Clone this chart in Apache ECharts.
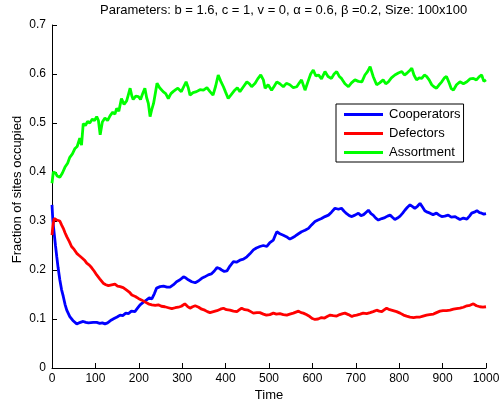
<!DOCTYPE html>
<html>
<head>
<meta charset="utf-8">
<script src="https://cdn.jsdelivr.net/npm/echarts@6/dist/echarts.min.js"></script>
<style>html,body{margin:0;padding:0;background:#fff}#c{width:501px;height:403px}</style>
</head>
<body>
<div id="c"></div>
<script>
var titleText = 'Parameters: b = 1.6, c = 1, v = 0, α = 0.6, β =0.2, Size: 100x100';
var xName = 'Time';
var yName = 'Fraction of sites occupied';
var seriesNames = ['Cooperators', 'Defectors', 'Assortment'];
var seriesColors = ['#0000ff', '#ff0000', '#00ff00'];

var cooperators = [[0,0.333],[2,0.30],[5,0.275],[8,0.250],[11,0.227],[14,0.205],[18,0.180],[22,0.160],[26,0.146],[30,0.130],[34,0.118],[41,0.105],[48,0.097],[57,0.090],[62,0.092],[66,0.091],[72,0.095],[78,0.093],[84,0.092],[88,0.094],[95,0.093],[103,0.093],[110,0.091],[116,0.092],[122,0.090],[128,0.092],[137,0.098],[143,0.101],[150,0.104],[157,0.108],[163,0.107],[170,0.112],[176,0.111],[183,0.116],[191,0.115],[197,0.122],[203,0.129],[210,0.134],[218,0.139],[224,0.143],[230,0.141],[236,0.152],[241,0.163],[249,0.166],[257,0.167],[265,0.165],[272,0.165],[280,0.170],[287,0.176],[295,0.180],[303,0.186],[308,0.184],[314,0.180],[322,0.176],[330,0.174],[338,0.178],[345,0.183],[352,0.186],[360,0.190],[367,0.192],[374,0.198],[380,0.205],[386,0.203],[391,0.200],[397,0.197],[403,0.198],[410,0.208],[418,0.217],[425,0.216],[433,0.220],[441,0.222],[449,0.227],[456,0.233],[464,0.241],[471,0.245],[479,0.248],[487,0.250],[495,0.248],[502,0.256],[510,0.261],[514,0.270],[518,0.278],[525,0.274],[533,0.271],[540,0.268],[548,0.263],[554,0.266],[560,0.269],[568,0.274],[575,0.278],[583,0.281],[591,0.285],[598,0.292],[606,0.299],[613,0.302],[621,0.305],[629,0.309],[637,0.312],[644,0.318],[652,0.326],[660,0.324],[667,0.326],[673,0.320],[679,0.315],[685,0.311],[691,0.309],[698,0.312],[706,0.316],[712,0.311],[718,0.313],[724,0.318],[729,0.322],[735,0.315],[740,0.312],[746,0.306],[752,0.302],[760,0.305],[767,0.307],[773,0.310],[779,0.312],[785,0.307],[790,0.303],[796,0.306],[802,0.310],[808,0.316],[813,0.322],[819,0.328],[825,0.333],[830,0.330],[836,0.326],[842,0.330],[848,0.336],[854,0.328],[859,0.321],[865,0.318],[871,0.316],[878,0.313],[886,0.316],[892,0.312],[898,0.309],[905,0.310],[913,0.312],[920,0.308],[929,0.309],[934,0.306],[940,0.303],[948,0.306],[956,0.304],[962,0.310],[967,0.316],[973,0.318],[979,0.321],[985,0.317],[990,0.316],[995,0.314],[1000,0.315]];

var defectors = [[0,0.271],[2,0.290],[5,0.305],[8,0.303],[11,0.302],[15,0.298],[18,0.300],[22,0.292],[26,0.285],[30,0.276],[34,0.268],[40,0.258],[45,0.248],[51,0.242],[57,0.234],[62,0.230],[66,0.230],[70,0.224],[75,0.220],[80,0.214],[86,0.210],[91,0.205],[97,0.198],[103,0.190],[110,0.182],[118,0.173],[124,0.170],[130,0.168],[134,0.169],[140,0.170],[145,0.171],[151,0.167],[157,0.166],[164,0.164],[172,0.159],[178,0.155],[184,0.149],[192,0.146],[199,0.142],[206,0.139],[214,0.135],[222,0.131],[230,0.129],[238,0.128],[245,0.129],[252,0.126],[260,0.125],[268,0.123],[276,0.121],[284,0.123],[291,0.124],[298,0.126],[306,0.131],[312,0.126],[318,0.122],[324,0.125],[330,0.127],[338,0.124],[345,0.120],[352,0.118],[358,0.115],[364,0.113],[372,0.115],[380,0.117],[388,0.120],[395,0.122],[402,0.119],[410,0.118],[418,0.116],[426,0.115],[432,0.119],[437,0.122],[444,0.119],[452,0.118],[458,0.115],[464,0.112],[472,0.113],[479,0.113],[487,0.110],[494,0.108],[502,0.109],[510,0.112],[517,0.110],[525,0.111],[533,0.109],[541,0.108],[548,0.110],[556,0.112],[562,0.114],[568,0.116],[574,0.113],[579,0.112],[586,0.109],[594,0.105],[600,0.101],[606,0.099],[613,0.100],[621,0.103],[628,0.102],[634,0.105],[641,0.108],[648,0.107],[656,0.106],[663,0.109],[670,0.111],[675,0.112],[683,0.109],[691,0.105],[696,0.107],[702,0.108],[710,0.110],[717,0.112],[725,0.111],[733,0.113],[740,0.115],[748,0.118],[754,0.116],[760,0.115],[766,0.119],[771,0.122],[778,0.119],[786,0.117],[794,0.115],[802,0.112],[810,0.108],[817,0.106],[825,0.104],[833,0.103],[840,0.104],[848,0.104],[855,0.106],[863,0.108],[870,0.109],[879,0.110],[886,0.113],[894,0.116],[901,0.117],[909,0.117],[917,0.118],[925,0.120],[932,0.121],[940,0.122],[948,0.124],[956,0.127],[963,0.128],[971,0.131],[978,0.127],[986,0.125],[993,0.124],[1000,0.125]];

var assortment = [[0,0.377],[3,0.400],[8,0.398],[12,0.392],[18,0.389],[24,0.398],[30,0.410],[36,0.418],[41,0.430],[47,0.437],[53,0.448],[58,0.452],[64,0.469],[68,0.455],[72,0.499],[77,0.495],[82,0.503],[87,0.500],[93,0.508],[98,0.505],[103,0.513],[107,0.505],[111,0.476],[116,0.502],[122,0.510],[128,0.505],[134,0.515],[140,0.522],[145,0.518],[149,0.530],[154,0.524],[160,0.550],[166,0.538],[172,0.545],[176,0.558],[180,0.571],[184,0.555],[187,0.548],[193,0.555],[199,0.554],[204,0.548],[209,0.560],[214,0.571],[218,0.552],[222,0.540],[226,0.513],[230,0.528],[234,0.540],[238,0.560],[242,0.581],[248,0.572],[256,0.564],[262,0.560],[268,0.550],[274,0.560],[279,0.564],[285,0.568],[290,0.571],[298,0.564],[304,0.575],[309,0.584],[314,0.572],[318,0.557],[325,0.562],[333,0.564],[341,0.568],[349,0.567],[357,0.572],[364,0.564],[371,0.557],[377,0.575],[383,0.598],[389,0.585],[395,0.574],[400,0.563],[406,0.550],[413,0.558],[421,0.567],[427,0.572],[433,0.564],[441,0.574],[449,0.584],[455,0.580],[460,0.574],[468,0.581],[474,0.590],[481,0.598],[487,0.588],[491,0.571],[498,0.578],[506,0.567],[512,0.575],[518,0.584],[525,0.580],[533,0.574],[540,0.581],[548,0.578],[556,0.572],[564,0.574],[570,0.582],[575,0.588],[583,0.567],[590,0.585],[596,0.600],[602,0.608],[608,0.596],[614,0.598],[621,0.590],[629,0.605],[636,0.595],[644,0.591],[650,0.600],[656,0.605],[662,0.595],[667,0.591],[675,0.580],[683,0.574],[690,0.582],[698,0.588],[706,0.585],[714,0.584],[721,0.598],[727,0.605],[733,0.615],[740,0.595],[748,0.578],[755,0.582],[763,0.588],[769,0.580],[775,0.584],[782,0.592],[790,0.598],[798,0.602],[806,0.605],[812,0.598],[817,0.601],[823,0.606],[829,0.612],[834,0.598],[840,0.588],[846,0.592],[852,0.591],[858,0.598],[863,0.595],[869,0.588],[875,0.578],[880,0.574],[886,0.571],[892,0.578],[898,0.584],[904,0.592],[909,0.595],[915,0.582],[920,0.570],[925,0.567],[932,0.578],[940,0.584],[948,0.580],[956,0.584],[963,0.590],[971,0.591],[978,0.588],[984,0.594],[990,0.598],[995,0.585],[1000,0.588]];

var xMin = 0, xMax = 1000, xStep = 100;
var yMin = 0, yMax = 0.7, yStep = 0.1;

var font = '"Liberation Sans", Arial, Helvetica, sans-serif';
var chart = echarts.init(document.getElementById('c'), null, {renderer: 'canvas'});
var dataSets = [cooperators, defectors, assortment];
chart.setOption({
  animation: false,
  backgroundColor: '#fff',
  title: {
    text: titleText, left: 100, top: 4, padding: 0,
    textStyle: {fontFamily: font, fontSize: 13, fontWeight: 'normal', color: '#000'}
  },
  grid: {left: 52, right: 15, top: 25, bottom: 35, containLabel: false, outerBoundsMode: 'none'},
  legend: {
    orient: 'vertical', left: 336, top: 104,
    padding: [4, 3, 3, 8], itemGap: 6, itemWidth: 39, itemHeight: 3,
    backgroundColor: '#fff', borderColor: '#000', borderWidth: 1,
    icon: 'rect',
    textStyle: {fontFamily: font, fontSize: 13, color: '#000', padding: [0,0,0,1]},
    data: seriesNames
  },
  xAxis: {
    type: 'value', min: xMin, max: xMax, interval: xStep,
    name: xName, nameLocation: 'middle', nameGap: 21, nameMoveOverlap: false,
    nameTextStyle: {fontFamily: font, fontSize: 13, color: '#000'},
    axisLine: {lineStyle: {color: '#000', width: 1}},
    axisTick: {inside: true, length: 5, lineStyle: {color: '#000'}},
    axisLabel: {fontFamily: font, fontSize: 12, color: '#000', margin: 5,
      formatter: function (v) { return String(v); }},
    splitLine: {show: false}
  },
  yAxis: {
    type: 'value', min: yMin, max: yMax, interval: yStep,
    name: yName, nameLocation: 'middle', nameGap: 28, nameRotate: 90, nameMoveOverlap: false,
    nameTextStyle: {fontFamily: font, fontSize: 13, color: '#000', padding: [0, 0, 0, 14]},
    axisLine: {show: true, lineStyle: {color: '#000', width: 1}},
    axisTick: {show: true, inside: true, length: 5, lineStyle: {color: '#000'}},
    axisLabel: {fontFamily: font, fontSize: 12, color: '#000', margin: 6,
      formatter: function (v) { return String(Math.round(v * 10) / 10); }},
    splitLine: {show: false}
  },
  series: seriesNames.map(function (n, i) {
    return {
      name: n, type: 'line', data: dataSets[i], showSymbol: false, symbol: 'none',
      lineStyle: {color: seriesColors[i], width: 2.8},
      itemStyle: {color: seriesColors[i]}
    };
  })
});
</script>
</body>
</html>
